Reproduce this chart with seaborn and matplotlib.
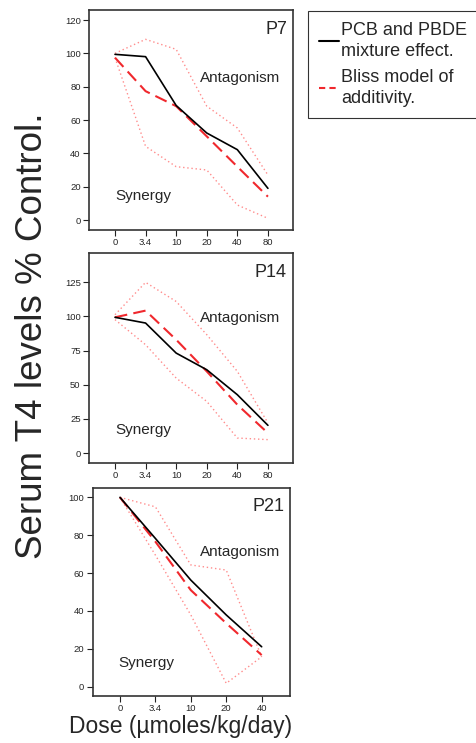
import numpy as np
import matplotlib
matplotlib.use("Agg")
import matplotlib.pyplot as plt
import pandas as pd
import seaborn as sns

sns.set_style("white")
plt.rcParams['font.family'] = ['Liberation Sans', 'DejaVu Sans']

# dose categories
doses_p7 = ["0", "3.4", "10", "20", "40", "80"]
doses_p14 = ["0", "3.4", "10", "20", "40", "80"]
doses_p21 = ["0", "3.4", "10", "20", "40"]

# P7
p7_mix = [99.4, 98, 68.7, 52.2, 42.2, 19]
p7_bliss = [97.4, 77.3, 68.3, 50.2, 32, 14]
p7_upper = [100, 108.4, 102.4, 68.3, 55.2, 27]
p7_lower = [97.4, 44.2, 32, 30, 9, 1]

# P14
p14_mix = [99.4, 95.2, 73.2, 61, 42.7, 20.3]
p14_bliss = [99.4, 104.3, 83, 59.8, 35.4, 14.6]
p14_upper = [101.3, 125, 111, 86.7, 59.8, 22]
p14_lower = [97.7, 79.3, 54.9, 37.8, 11, 9.8]

# P21
p21_mix = [100, 78.3, 56.3, 37.9, 21.1]
p21_bliss = [100, 76.6, 51, 33.5, 16.7]
p21_upper = [100, 95, 64.3, 61.6, 15.8]
p21_lower = [100, 69.5, 37.9, 1.8, 15.8]

W, H = 477, 743
fig = plt.figure(figsize=(W / 100, H / 100), dpi=100)

panels = [
    ("P7", doses_p7, p7_mix, p7_bliss, p7_upper, p7_lower,
     (89, 10, 293, 230), (-0.85, 5.82), (-6, 126), [0, 20, 40, 60, 80, 100, 120]),
    ("P14", doses_p14, p14_mix, p14_bliss, p14_upper, p14_lower,
     (89, 253, 293, 463), (-0.85, 5.82), (-7.3, 146.5), [0, 25, 50, 75, 100, 125]),
    ("P21", doses_p21, p21_mix, p21_bliss, p21_upper, p21_lower,
     (92.7, 487.7, 290, 695.7), (-0.77, 4.8), (-4.75, 105.1), [0, 20, 40, 60, 80, 100]),
]

for name, doses, mix, bliss, up, lo, box, xl, yl, yt in panels:
    l, t, r, b = box
    ax = fig.add_axes([l / W, 1 - b / H, (r - l) / W, (b - t) / H])
    df = pd.DataFrame({"pos": np.arange(len(doses)), "mix": mix, "bliss": bliss,
                       "upper": up, "lower": lo})
    # 95% bounds (dotted)
    sns.lineplot(data=df, x="pos", y="upper", ax=ax, color="#ff8c8c", lw=1.0,
                 linestyle=(0, (1, 2)))
    sns.lineplot(data=df, x="pos", y="lower", ax=ax, color="#ff8c8c", lw=1.0,
                 linestyle=(0, (1, 2)))
    sns.lineplot(data=df, x="pos", y="bliss", ax=ax, color="#f0282d", lw=1.5,
                 linestyle=(0, (6, 3)))
    sns.lineplot(data=df, x="pos", y="mix", ax=ax, color="black", lw=1.2)
    ax.set_xlim(*xl)
    ax.set_ylim(*yl)
    ax.set_xticks(np.arange(len(doses)))
    ax.set_xticklabels(doses)
    ax.set_yticks(yt)
    ax.set_xlabel("")
    ax.set_ylabel("")
    ax.tick_params(axis="both", which="both", direction="out", length=4,
                   width=0.8, labelsize=6.8, pad=2, color="#222222",
                   bottom=True, left=True)
    for s in ax.spines.values():
        s.set_color("#333333")
        s.set_linewidth(1.2)
    ax.text(0.97, 0.95, name, transform=ax.transAxes, ha="right", va="top",
            fontsize=13)
    ax.text(0.545, 0.69, "Antagonism", transform=ax.transAxes, ha="left",
            va="center", fontsize=11)
    ax.text(0.13, 0.155, "Synergy", transform=ax.transAxes, ha="left",
            va="center", fontsize=11)

fig.text(33 / W, 1 - 336 / H, "Serum T4 levels % Control.", rotation=90,
         ha="center", va="center", fontsize=26.5)
fig.text(181 / W, 1 - 726 / H, "Dose (\u00b5moles/kg/day)", ha="center",
         va="center", fontsize=16.5)

h1 = plt.Line2D([], [], color="black", lw=1.5)
h2 = plt.Line2D([], [], color="#f0282d", lw=1.5, linestyle=(0, (3, 2)))
leg = fig.legend([h1, h2], ["PCB and PBDE\nmixture effect.", "Bliss model of\nadditivity."],
                 loc="upper left", bbox_to_anchor=(308 / W, 1 - 11 / H),
                 fontsize=13, frameon=True, fancybox=False, handlelength=1.1,
                 handletextpad=0.15, borderpad=0.6, labelspacing=0.45,
                 borderaxespad=0)
for t in leg.get_texts():
    t.set_linespacing(1.35)
leg.get_frame().set_edgecolor("black")
leg.get_frame().set_linewidth(0.8)

fig.savefig("out.png", dpi=100)
